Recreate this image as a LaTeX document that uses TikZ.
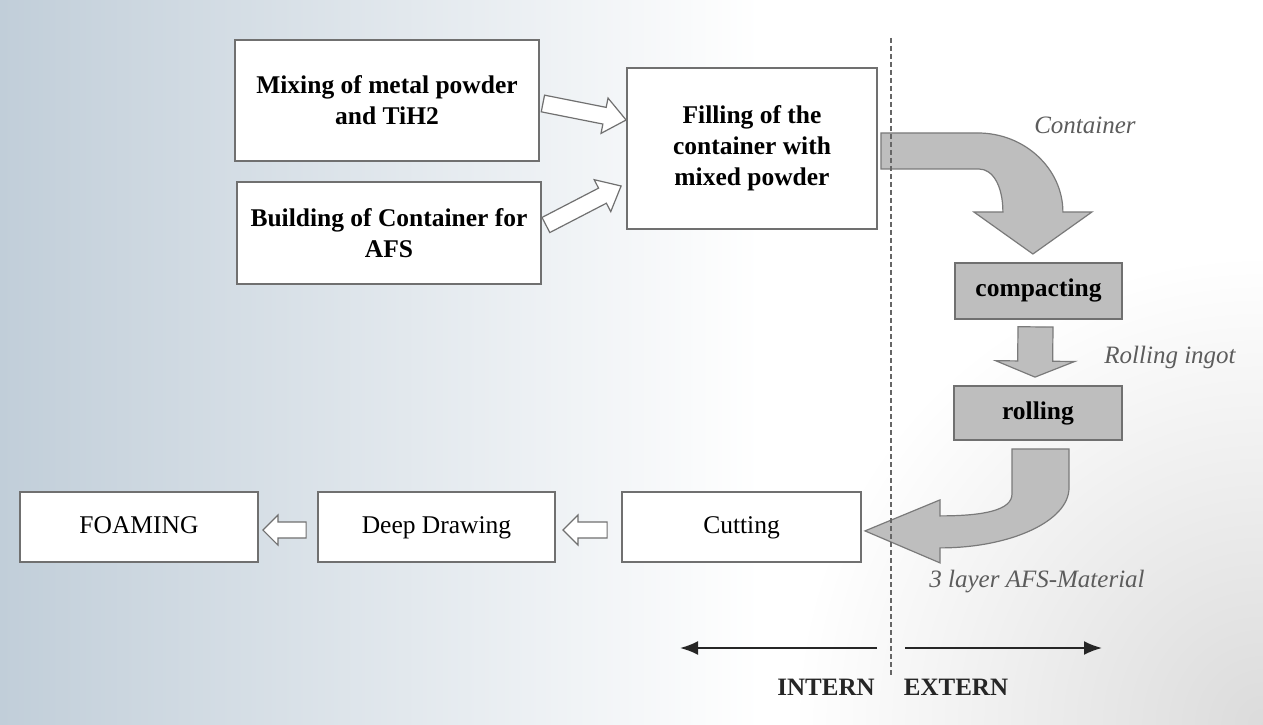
\documentclass[tikz,border=0pt]{standalone}
\usepackage{fontspec}
\setmainfont{Liberation Serif}
\usetikzlibrary{arrows.meta, positioning, calc}
\usepackage{xcolor}

\definecolor{foamblue}{RGB}{193,206,217}
\definecolor{boxline}{RGB}{112,112,112}
\definecolor{bandgray}{RGB}{190,190,190}
\definecolor{bandline}{RGB}{122,122,122}
\definecolor{labelgray}{RGB}{92,92,92}

% fat arrow from #2 to #3: half shaft, half head, head length
\newcommand{\blockarrow}[6][]{%
  \coordinate (bah) at ($(#3)!#6!(#2)$);
  \filldraw[#1] ($(#2)!#4!90:(#3)$) -- ($(bah)!#4!90:(#3)$) -- ($(bah)!#5!90:(#3)$) -- (#3)
    -- ($(bah)!#5!-90:(#3)$) -- ($(bah)!#4!-90:(#3)$) -- ($(#2)!#4!-90:(#3)$) -- cycle;
}

\begin{document}
\begin{tikzpicture}[x=1pt, y=1pt]
    % Define styles
    \tikzset{
        process box/.style={
            rectangle,
            draw=boxline,
            line width=1.8pt,
            fill=white,
            align=center,
            inner sep=0pt,
            font=\fontsize{25.5}{31}\selectfont\bfseries
        },
        plain box/.style={process box, text height=17pt, text depth=5pt, font=\fontsize{25.5}{31}\selectfont},
        press box/.style={process box, text height=17pt, text depth=5pt, fill=bandgray},
        hollow arrow/.style={fill=white, draw=boxline, line width=1.2pt, line join=miter},
        band arrow/.style={fill=bandgray, draw=bandline, line width=1.2pt},
        side label/.style={font=\fontsize{25}{30}\selectfont\itshape, text=labelgray},
        zone label/.style={font=\fontsize{25}{30}\selectfont\bfseries, text=black!85},
        zone arrow/.style={-{Latex[length=18pt, width=14pt]}, line width=2pt, black!85},
        divider/.style={draw=black!60, line width=1.6pt, dash pattern=on 5pt off 3pt}
    }

    % Background
    \useasboundingbox (0,0) rectangle (1263,724);
    \fill[white] (0,0) rectangle (1263,724);
    \shade[left color=foamblue, right color=white] (0,0) rectangle (760,724);
    \begin{scope}
        \clip (0,0) rectangle (1263,724);
        \shade[inner color=gray!28, outer color=white] (1263,0) circle (470);
    \end{scope}

    % Preparation steps
    \node[process box, minimum width=304pt, minimum height=121pt] (mix) at (387,623.5) {Mixing of metal powder\\and TiH2};
    \node[process box, minimum width=304pt, minimum height=102pt] (build) at (389,491) {Building of Container for\\AFS};
    \node[process box, minimum width=250pt, minimum height=161pt] (fill) at (752,575.5) {Filling of the\\container with\\mixed powder};

    % External steps
    \node[press box, minimum width=167pt, minimum height=56pt] (comp) at (1038.5,433) {compacting};
    \node[press box, minimum width=168pt, minimum height=54pt] (roll) at (1038,311) {rolling};

    % Final steps
    \node[plain box, minimum width=239pt, minimum height=70pt] (cut) at (741.5,197) {Cutting};
    \node[plain box, minimum width=237pt, minimum height=70pt] (deep) at (436.5,197) {Deep Drawing};
    \node[plain box, minimum width=238pt, minimum height=70pt] (foam) at (139,197) {FOAMING};

    % Hollow arrows
    \coordinate (mixout) at ($(mix.east)+(3,-3)$);
    \coordinate (fillinA) at ($(fill.west)+(0,28.5)$);
    \coordinate (buildout) at ($(build.east)+(4,8)$);
    \coordinate (fillinB) at ($(fill.west)+(-5,-37.5)$);
    \blockarrow[hollow arrow]{mixout}{fillinA}{8.5pt}{18pt}{22pt}
    \blockarrow[hollow arrow]{buildout}{fillinB}{8.5pt}{18pt}{21pt}

    \coordinate (deepout) at ($(deep.west)+(-11,-3)$);
    \coordinate (foamin) at ($(foam.east)+(4,-3)$);
    \coordinate (cutout) at ($(cut.west)+(-14,-3)$);
    \coordinate (deepin) at ($(deep.east)+(7,-3)$);
    \blockarrow[hollow arrow]{deepout}{foamin}{8pt}{15pt}{15pt}
    \blockarrow[hollow arrow]{cutout}{deepin}{8pt}{15pt}{15pt}

    % Gray arrows
    \filldraw[band arrow] ($(fill.east)+(3,15.5)$) -- ++(97,0)
        .. controls +(47,0) and +(0,43) .. ++(85,-79)
        -- ++(29,0) -- ++(-59,-42) -- ++(-59,42) -- ++(29,0)
        .. controls +(0,26) and +(14,0) .. ++(-24,43)
        -- ++(-98,0) -- cycle;

    \coordinate (compout) at ($(comp.south)+(-3,-7)$);
    \coordinate (rollin) at ($(roll.north)+(-3,8)$);
    \blockarrow[band arrow]{compout}{rollin}{17.5pt}{39.5pt}{16pt}

    \filldraw[band arrow] ($(roll.south)+(-26,-8)$) -- ++(57,0) -- ++(0,-39)
        .. controls +(0,-33) and +(71,0) .. ++(-129,-60)
        -- ++(0,-15) -- ++(-75,32) -- ++(75,31) -- ++(0,-16)
        .. controls +(45,0) and +(0,-16) .. ++(72,22)
        -- cycle;

    % Intern / extern border
    \coordinate (divtop) at (891,686);
    \coordinate (divbot) at (891,49);
    \draw[divider] (divtop) -- (divbot);

    \coordinate (inA) at (877,76);
    \coordinate (inB) at (680,76);
    \coordinate (exA) at (905,76);
    \coordinate (exB) at (1102,76);
    \draw[zone arrow] (inA) -- (inB);
    \draw[zone arrow] (exA) -- (exB);

    % Labels
    \node[side label] (contlbl) at (1085,599) {Container};
    \node[side label] (ingotlbl) at (1170,367) {Rolling ingot};
    \node[side label] (layerlbl) at (1037,142) {3 layer AFS-Material};
    \node[zone label] (intern) at (826,37) {INTERN};
    \node[zone label] (extern) at (956,37) {EXTERN};

\end{tikzpicture}
\end{document}
